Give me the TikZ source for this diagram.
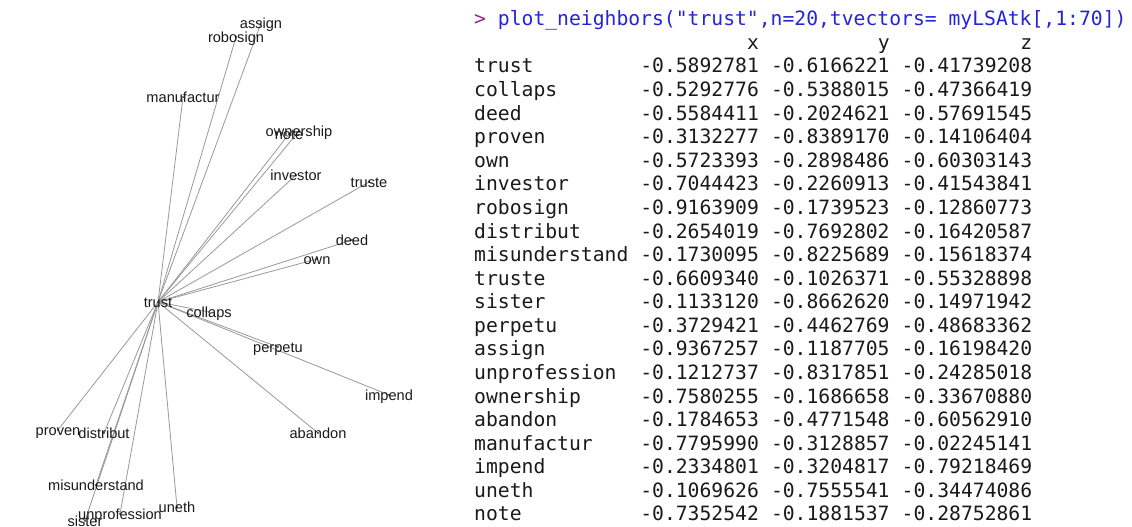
\documentclass[tikz,border=0pt]{standalone}
\usepackage{fontspec}
\setmainfont{Liberation Sans}
\setmonofont{DejaVu Sans Mono}
\definecolor{promptc}{HTML}{8E2A8E}
\definecolor{cmdc}{HTML}{2424D8}
\definecolor{linec}{HTML}{999999}
\definecolor{txtc}{HTML}{1A1A1A}
\frenchspacing
\begin{document}
\begin{tikzpicture}[x=1pt,y=-1pt,
  word/.style={inner sep=0pt, text height=10.5pt, text depth=0pt, font=\fontsize{14.6}{17}\selectfont, text=txtc},
  spoke/.style={draw=linec, line width=0.8pt},
  dotmark/.style={fill=black},
  mono/.style={inner sep=0pt, font=\ttfamily\fontsize{19.7}{23}\selectfont, text=txtc}]
\useasboundingbox[fill=white] (0,0) rectangle (1132,527);
% ---- plot of neighbours ----
\coordinate (p-trust) at (158,302);
\foreach \w/\px/\py in {collaps/209/312, deed/352/240, proven/58/430, own/317/259,
  investor/296/175, robosign/236/37, distribut/104/433, misunderstand/96/485,
  truste/369/182, sister/85/521, perpetu/278/347, assign/261/23,
  unprofession/120/514, ownership/299/131, abandon/318/433, manufactur/183/97,
  impend/389/395, uneth/177/507, note/289/134} {
  \coordinate (p-\w) at (\px,\py);
  \draw[spoke] (p-trust) -- (p-\w);
}
\foreach \w in {trust, collaps, deed, proven, own, investor, robosign, distribut,
  misunderstand, truste, sister, perpetu, assign, unprofession, ownership,
  abandon, manufactur, impend, uneth, note} {
  \node[word] (w-\w) at (p-\w) {\w};
}
\foreach \w in {trust, collaps, deed, proven, own, investor, robosign, distribut,
  misunderstand, truste, sister, perpetu, assign, unprofession, ownership,
  abandon, manufactur, impend, uneth, note} {
  \fill[dotmark] (p-\w) circle (0.9pt);
}
% ---- console output ----
\node[mono, anchor=base west] (prompt) at (474,25.8)
  {{\color{promptc}>} {\color{cmdc}plot\_neighbors("trust",n=20,tvectors= myLSAtk[,1:70])}};
\node[mono, anchor=base east] (hx) at (759.1,49.4) {x};
\node[mono, anchor=base east] (hy) at (889.8,49.4) {y};
\node[mono, anchor=base east] (hz) at (1032.4,49.4) {z};
\foreach \nm/\xv/\yv/\zv [count=\i] in {
  trust/-0.5892781/-0.6166221/-0.41739208,
  collaps/-0.5292776/-0.5388015/-0.47366419,
  deed/-0.5584411/-0.2024621/-0.57691545,
  proven/-0.3132277/-0.8389170/-0.14106404,
  own/-0.5723393/-0.2898486/-0.60303143,
  investor/-0.7044423/-0.2260913/-0.41543841,
  robosign/-0.9163909/-0.1739523/-0.12860773,
  distribut/-0.2654019/-0.7692802/-0.16420587,
  misunderstand/-0.1730095/-0.8225689/-0.15618374,
  truste/-0.6609340/-0.1026371/-0.55328898,
  sister/-0.1133120/-0.8662620/-0.14971942,
  perpetu/-0.3729421/-0.4462769/-0.48683362,
  assign/-0.9367257/-0.1187705/-0.16198420,
  unprofession/-0.1212737/-0.8317851/-0.24285018,
  ownership/-0.7580255/-0.1686658/-0.33670880,
  abandon/-0.1784653/-0.4771548/-0.60562910,
  manufactur/-0.7795990/-0.3128857/-0.02245141,
  impend/-0.2334801/-0.3204817/-0.79218469,
  uneth/-0.1069626/-0.7555541/-0.34474086,
  note/-0.7352542/-0.1881537/-0.28752861} {
  \pgfmathsetmacro{\by}{25.8+(\i+1)*23.58}
  \node[mono, anchor=base west] (rn\i) at (474,\by) {\nm};
  \node[mono, anchor=base east] (rx\i) at (759.1,\by) {\xv};
  \node[mono, anchor=base east] (ry\i) at (889.8,\by) {\yv};
  \node[mono, anchor=base east] (rz\i) at (1032.4,\by) {\zv};
}
\end{tikzpicture}
\end{document}
